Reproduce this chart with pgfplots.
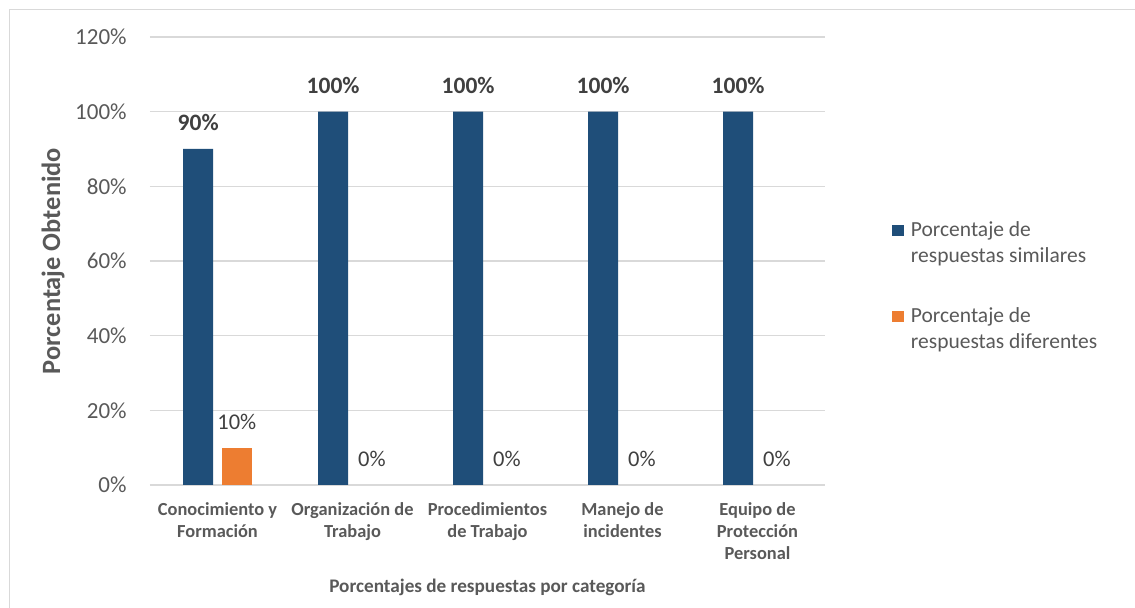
\documentclass[border=0pt]{standalone}
\usepackage{pgfplots}
\pgfplotsset{compat=1.18}
\usepackage{fontspec}
\setmainfont{Carlito}
\definecolor{cblue}{HTML}{1F4E79}
\definecolor{corange}{HTML}{ED7D31}
\definecolor{cgrid}{HTML}{D9D9D9}
\definecolor{ctext}{HTML}{595959}
\definecolor{clab}{HTML}{404040}
\begin{document}
\begin{tikzpicture}
\path[use as bounding box] (-75pt,-61.5pt) rectangle (492.5pt,242.5pt);
\draw[cgrid, line width=0.75pt] (-70.25pt,-61.5pt) -- (-70.25pt,237.75pt) -- (492.5pt,237.75pt);
\begin{axis}[
  at={(0pt,0pt)}, anchor=south west,
  scale only axis, width=337.5pt, height=224pt,
  ybar, bar width=15pt,
  xmin=-0.5, xmax=4.5, ymin=0, ymax=120,
  xtick={0,1,2,3,4},
  xticklabels={Conocimiento y\\Formación, Organización de\\Trabajo, Procedimientos\\de Trabajo, Manejo de\\incidentes, Equipo de\\Protección\\Personal},
  xticklabel style={align=center, anchor=north, inner sep=0pt, yshift=-8.5pt, text=ctext, font=\bfseries\fontsize{9.2}{11}\selectfont},
  ytick={0,20,40,60,80,100,120},
  yticklabels={0\%,20\%,40\%,60\%,80\%,100\%,120\%},
  yticklabel style={anchor=east, inner sep=0pt, xshift=-11.5pt, text=ctext, font=\fontsize{11.5}{13.8}\selectfont},
  ymajorgrids, major grid style={cgrid, line width=0.75pt},
  axis line style={draw=none},
  major tick length=0pt,
  clip=false,
  ylabel={Porcentaje Obtenido},
  ylabel style={at={(axis description cs:-0.1333,0.5)}, anchor=base, text=ctext, font=\bfseries\fontsize{13.2}{15}\selectfont},
  xlabel={Porcentajes de respuestas por categoría},
  xlabel style={at={(axis description cs:0.5,-0.241)}, anchor=base, text=ctext, font=\bfseries\fontsize{9.6}{11.5}\selectfont},
  legend image code/.code={\fill[#1, draw=none] (0pt,0pt) rectangle (5.75pt,5.75pt); \path (9.25pt,0pt);},
  legend style={at={(axis description cs:1.0993,0.597)}, anchor=north west, draw=none, fill=none, inner sep=0pt,
    row sep=32.5pt, text=ctext, font=\fontsize{10.75}{13}\selectfont,
    nodes={inner sep=0pt, anchor=base west}},
]
\addplot[fill=cblue, draw=none, bar shift=-9.675pt,
  nodes near coords={\pgfmathprintnumber[assume math mode=true]{\pgfplotspointmeta}\%},
  nodes near coords style={anchor=base, inner sep=0pt, yshift=9.25pt, text=clab, font=\bfseries\fontsize{11.75}{14}\selectfont}]
  coordinates {(0,90) (1,100) (2,100) (3,100) (4,100)};
\addlegendentry{\begin{tabular}[t]{@{}l@{}}Porcentaje de\\respuestas similares\end{tabular}}
\addplot[fill=corange, draw=none, bar shift=9.675pt,
  nodes near coords={\pgfmathprintnumber[assume math mode=true]{\pgfplotspointmeta}\%},
  nodes near coords style={anchor=base, inner sep=0pt, yshift=9.25pt, text=clab, font=\fontsize{11.25}{13.5}\selectfont}]
  coordinates {(0,10)};
\addlegendentry{\begin{tabular}[t]{@{}l@{}}Porcentaje de\\respuestas diferentes\end{tabular}}
\addplot[forget plot, fill=none, draw=none, bar shift=9.675pt,
  nodes near coords={\pgfmathprintnumber[assume math mode=true]{\pgfplotspointmeta}\%},
  nodes near coords style={anchor=base, inner sep=0pt, yshift=9.25pt, text=clab, font=\fontsize{11.25}{13.5}\selectfont}]
  coordinates {(1,0) (2,0) (3,0) (4,0)};
\end{axis}
\end{tikzpicture}
\end{document}
